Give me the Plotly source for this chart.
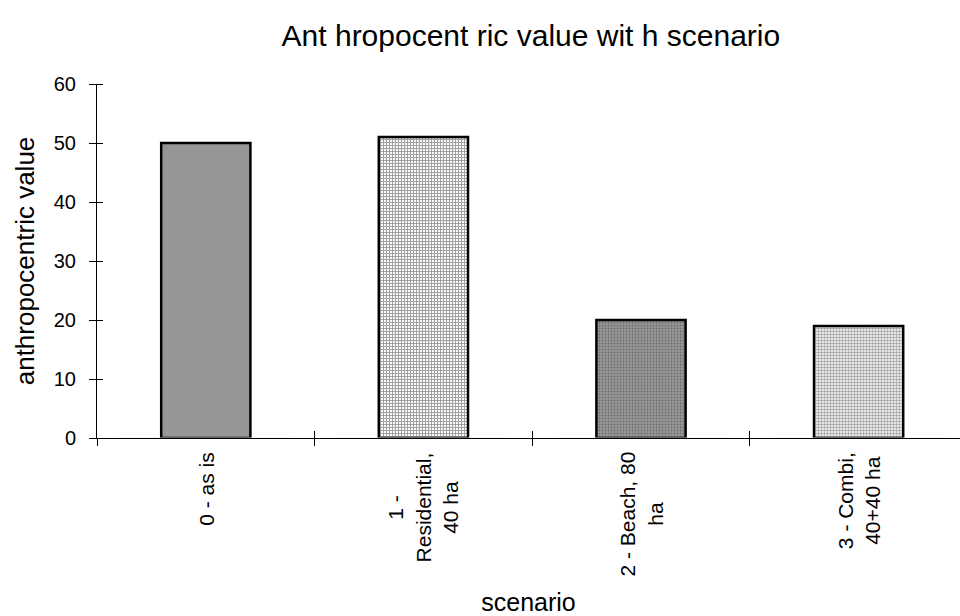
import plotly.graph_objects as go

# Scenario data
scenarios = ["0 - as is", "1 -<br>Residential,<br>40 ha", "2 - Beach, 80<br>ha", "3 - Combi,<br>40+40 ha"]
values = [50, 51, 20, 19]

# Fill styling per bar
fill_colors = ["#969696", "#ffffff", "#979797", "#ffffff"]
pattern_shapes = ["", "+", ".", "."]
pattern_fg = ["#969696", "#747474", "#b0b0b0", "#888888"]
pattern_size = [4, 3, 3, 3]
pattern_solidity = [0.3, 0.6, 0.3, 0.55]

fig = go.Figure()
fig.add_trace(go.Bar(
    x=scenarios,
    y=values,
    width=0.41,
    marker=dict(
        color=fill_colors,
        line=dict(color="#000000", width=2.5),
        pattern=dict(
            shape=pattern_shapes,
            fgcolor=pattern_fg,
            bgcolor=fill_colors,
            size=pattern_size,
            solidity=pattern_solidity,
            fillmode="overlay",
        ),
    ),
    showlegend=False,
    hoverinfo="skip",
))

# invisible companion trace for the inward tick overlay axis
fig.add_trace(go.Bar(x=scenarios, y=[0] * len(scenarios), xaxis="x2",
                     showlegend=False, hoverinfo="skip", marker_color="rgba(0,0,0,0)"))

font_family = "Liberation Sans, Arial, sans-serif"

# rotated category labels with centred lines, hanging just below the axis
label_annotations = [
    dict(
        x=cat, y=-0.034, xref="x", yref="paper",
        text=cat, textangle=-90, align="center",
        xanchor="center", yanchor="top", showarrow=False,
        font=dict(size=21, family=font_family, color="#000000"),
    )
    for cat in scenarios
]

fig.update_layout(
    width=960,
    height=616,
    margin=dict(l=97, r=0, t=84, b=178, autoexpand=False),
    paper_bgcolor="white",
    plot_bgcolor="white",
    font=dict(family=font_family, color="#000000"),
    annotations=label_annotations,
    title=dict(
        text="Ant hropocent ric value wit h scenario",
        x=0.553, xanchor="center",
        y=0.943, yanchor="middle",
        font=dict(size=30, family=font_family, color="#000000"),
    ),
    xaxis=dict(
        type="category",
        range=[-0.5, 3.466],
        automargin=False,
        tickson="boundaries",
        ticks="outside",
        ticklen=7,
        tickcolor="#000000",
        tickwidth=1,
        showline=True,
        linecolor="#000000",
        linewidth=1,
        showgrid=False,
        showticklabels=False,
        title=dict(text="scenario", font=dict(size=25, family=font_family), standoff=157),
    ),
    xaxis2=dict(
        type="category",
        overlaying="x",
        matches="x",
        side="bottom",
        anchor="y",
        tickson="boundaries",
        ticks="inside",
        ticklen=7,
        tickcolor="#000000",
        showticklabels=False,
        showgrid=False,
        showline=False,
    ),
    yaxis=dict(
        range=[0, 60],
        automargin=False,
        tickvals=[0, 10, 20, 30, 40, 50, 60],
        ticks="outside",
        ticklen=7,
        tickcolor="#000000",
        showline=True,
        linecolor="#000000",
        linewidth=1,
        showgrid=False,
        zeroline=False,
        tickfont=dict(size=20, family=font_family),
        ticklabelstandoff=9,
        minor=dict(ticks="inside", tickvals=[0, 10, 20, 30, 40, 50, 60], ticklen=6, tickcolor="#000000"),
        title=dict(text="anthropocentric value", font=dict(size=26, family=font_family), standoff=11),
    ),
)

fig.write_html("out.html")
